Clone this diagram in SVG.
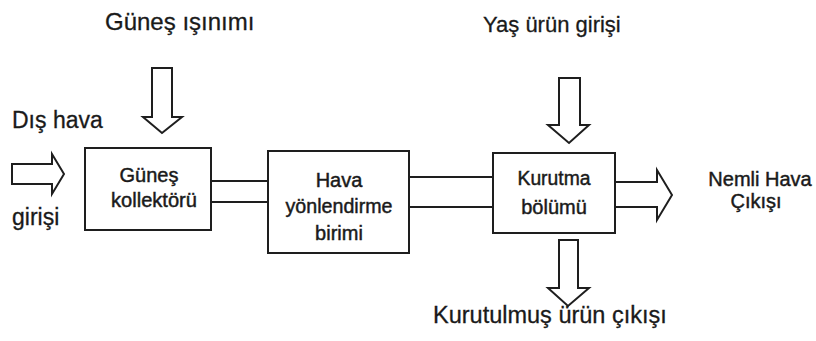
<svg xmlns="http://www.w3.org/2000/svg" width="816" height="341" viewBox="0 0 816 341">
<style>
.box{fill:none;stroke:#1e1e1e;stroke-width:2}
.arr{fill:#ffffff;stroke:#1e1e1e;stroke-width:2;stroke-linejoin:miter}
.ln{stroke:#1e1e1e;stroke-width:2;fill:none}
.lbl{font-family:"Liberation Sans",Arial,sans-serif;fill:#1a1a1a;stroke:#1a1a1a;stroke-width:0.3}
.bt{font-family:"Liberation Sans",Arial,sans-serif;fill:#1a1a1a;stroke:#1a1a1a;stroke-width:0.45;font-size:20px;text-anchor:middle}
</style>
<rect width="816" height="341" fill="#ffffff"/>
<g id="connectors">
<path class="ln" d="M211 181 H268 M211 202 H268"/>
<path class="ln" d="M409 177 H493 M409 207 H493"/>
<path id="arrow-dis-hava" class="arr" d="M12 164 H52 V154 L64 174 L52 194 V184 H12 Z"/>
<path id="arrow-gunes" class="arr" d="M152 68 H172 V117 H182 L162 133 L143 117 H152 Z"/>
<path id="arrow-yas" class="arr" d="M559 78 H580 V125 H589 L569 143 L548 125 H559 Z"/>
<path id="arrow-kurutulmus" class="arr" d="M559 240 H578 V288 H589 L568 306 L548 288 H559 Z"/>
<path id="arrow-nemli" class="arr" d="M615 182 H657 V170 L672 195 L657 220 V207 H615 Z"/>
</g>
<g id="node-gunes-kollektoru">
<rect class="box" x="85" y="148" width="126" height="82"/>
<text class="bt" x="149" y="182" font-size="21">Güneş</text>
<text class="bt" x="154" y="207" font-size="21" textLength="86" lengthAdjust="spacingAndGlyphs">kollektörü</text>
</g>
<g id="node-hava-yonlendirme">
<rect class="box" x="268" y="151" width="141" height="102"/>
<text class="bt" x="339" y="187" font-size="21">Hava</text>
<text class="bt" x="339" y="213" font-size="21" textLength="107" lengthAdjust="spacingAndGlyphs">yönlendirme</text>
<text class="bt" x="339" y="240" font-size="21">birimi</text>
</g>
<g id="node-kurutma">
<rect class="box" x="493" y="153" width="122" height="80"/>
<text class="bt" x="554" y="185" font-size="21" textLength="73" lengthAdjust="spacingAndGlyphs">Kurutma</text>
<text class="bt" x="554" y="214" font-size="21">bölümü</text>
</g>
<g id="labels">
<text class="lbl" x="105" y="30" font-size="24">Güneş ışınımı</text>
<text class="lbl" x="483" y="32" font-size="22">Yaş ürün girişi</text>
<text class="lbl" x="12" y="128" font-size="23">Dış hava</text>
<text class="lbl" x="12" y="225" font-size="23">girişi</text>
<text class="lbl" x="433" y="323" font-size="23.5">Kurutulmuş ürün çıkışı</text>
<text class="bt" x="760" y="186" font-size="18">Nemli Hava</text>
<text class="bt" x="756" y="208" font-size="18">Çıkışı</text>
</g>
</svg>
